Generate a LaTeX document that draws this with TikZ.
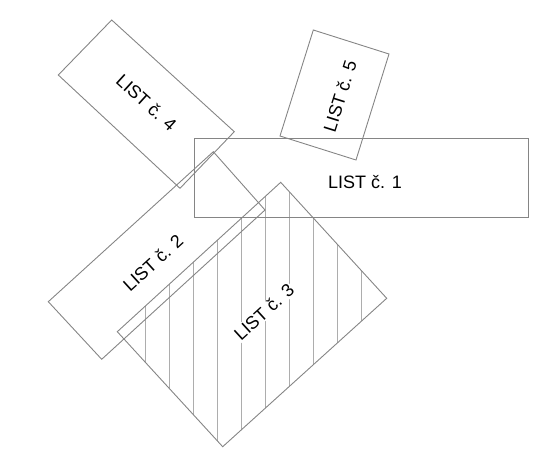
\documentclass[tikz,border=0pt]{standalone}
\usepackage{fontspec}
\setmainfont{Liberation Sans}
\begin{document}
\begin{tikzpicture}[x=1pt,y=-1pt,
  outline/.style={draw=black!48, line width=0.9pt, line join=miter},
  hatchline/.style={draw=black!32, line width=0.9pt},
  lbl/.style={font=\fontsize{18}{21}\selectfont, inner sep=1pt, text=black}]
\useasboundingbox (0,0) rectangle (556,452);
% corners
\coordinate (a1) at (194.5,138); \coordinate (a2) at (528,217);
\coordinate (b1) at (213.3,151.7); \coordinate (b2) at (265,210);
\coordinate (b3) at (101.7,359.3); \coordinate (b4) at (48.3,301.7);
\coordinate (c1) at (280.7,182.3); \coordinate (c2) at (386.7,298.3);
\coordinate (c3) at (222.7,446.7); \coordinate (c4) at (117.3,331.7);
\coordinate (d1) at (111.7,20); \coordinate (d2) at (234.3,131.7);
\coordinate (d3) at (180,188.3); \coordinate (d4) at (58.3,75);
\coordinate (e1) at (313.3,30); \coordinate (e2) at (389,54);
\coordinate (e3) at (356,160); \coordinate (e4) at (280,136);
% hatching of list 3
\begin{scope}
  \clip (c1) -- (c2) -- (c3) -- (c4) -- cycle;
  \foreach \i in {0,...,9} {
    \draw[hatchline] (145+24.03*\i,170) -- (145+24.03*\i,460);
  }
\end{scope}
% outlines
\draw[outline] (a1) rectangle (a2);
\draw[outline] (b1) -- (b2) -- (b3) -- (b4) -- cycle;
\draw[outline] (c1) -- (c2) -- (c3) -- (c4) -- cycle;
\draw[outline] (d1) -- (d2) -- (d3) -- (d4) -- cycle;
\draw[outline] (e1) -- (e2) -- (e3) -- (e4) -- cycle;
% labels
\node[lbl] (t1) at (365,182) {LIST č. 1};
\node[lbl, rotate=42.3] (t2) at (153,263) {LIST č. 2};
\node[lbl, rotate=42.4, fill=white] (t3) at (264,312) {LIST č. 3};
\node[lbl, rotate=-42.3] (t4) at (146.5,102.5) {LIST č. 4};
\node[lbl, rotate=72.6] (t5) at (340,96) {LIST č. 5};
\end{tikzpicture}
\end{document}
